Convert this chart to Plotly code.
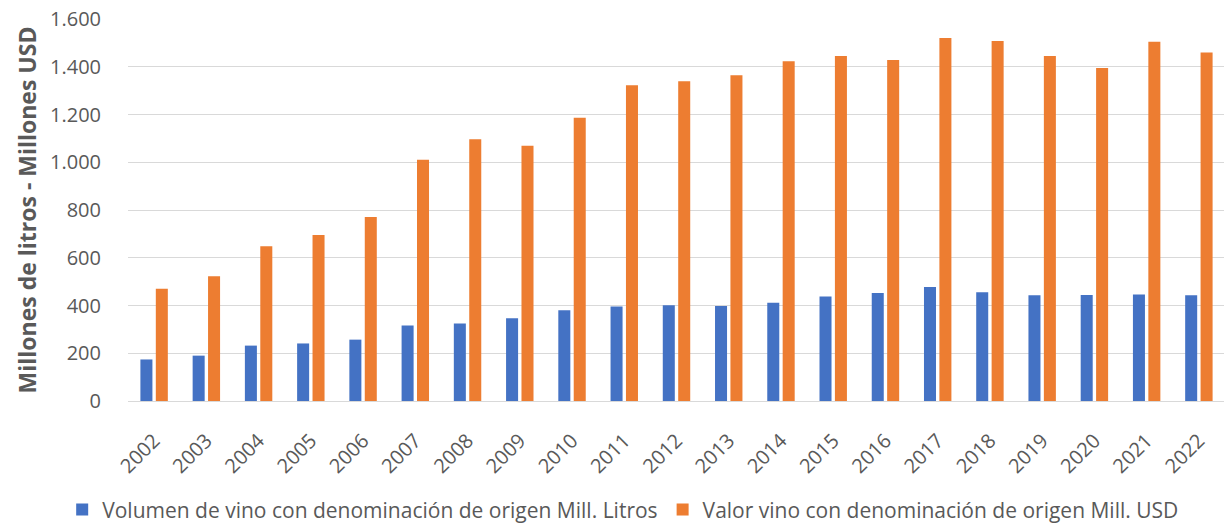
import plotly.graph_objects as go

years = [str(y) for y in range(2002, 2023)]
volumen = [174, 190, 232, 241, 257, 316, 325, 347, 380, 396, 401, 398, 412, 438, 452, 477, 456, 443, 444, 446, 443]
valor = [470, 523, 648, 695, 771, 1010, 1096, 1069, 1186, 1322, 1339, 1364, 1423, 1445, 1428, 1520, 1508, 1445, 1395, 1505, 1460]

name_vol = "Volumen de vino con denominación de origen Mill. Litros"
name_val = "Valor vino con denominación de origen Mill. USD"

FONT = "Open Sans"
GRAY = "#595959"

fig = go.Figure()
fig.add_trace(go.Bar(x=years, y=volumen, name=name_vol, marker=dict(color="#4472C4", line=dict(width=0))))
fig.add_trace(go.Bar(x=years, y=valor, name=name_val, marker=dict(color="#ED7D31", line=dict(width=0))))

# page body adds an 8px offset, so the figure is shifted accordingly
fig.update_layout(
    width=1224, height=519,
    margin=dict(l=120, r=7, t=11, b=126, autoexpand=False),
    paper_bgcolor="white", plot_bgcolor="white",
    barmode="group", bargap=0.41, bargroupgap=0.22,
    separators=",.",
    font=dict(family=FONT, color=GRAY, size=19),
    showlegend=True,
    legend=dict(orientation="h", x=-0.06, xanchor="left",
                y=-0.285, yanchor="middle",
                font=dict(size=21, color=GRAY, family=FONT), itemwidth=30, traceorder="normal"),
)
fig.update_xaxes(tickangle=-45, tickfont=dict(size=20, color=GRAY, family=FONT),
                 ticklabelstandoff=19,
                 showgrid=False, showline=True, linecolor="#d9d9d9", linewidth=1, ticks="")
fig.update_yaxes(range=[0, 1600], dtick=200, tickformat=",d",
                 tickfont=dict(size=20, color=GRAY, family=FONT),
                 ticklabeloverflow="allow",
                 showgrid=True, gridcolor="#d9d9d9", gridwidth=1,
                 zeroline=True, zerolinecolor="#d9d9d9", zerolinewidth=1,
                 ticks="", ticklabelstandoff=26,
                 title=dict(text="<b>Millones de litros - Millones USD</b>",
                            font=dict(size=23, color=GRAY, family=FONT), standoff=6))

fig.write_html("out.html")
